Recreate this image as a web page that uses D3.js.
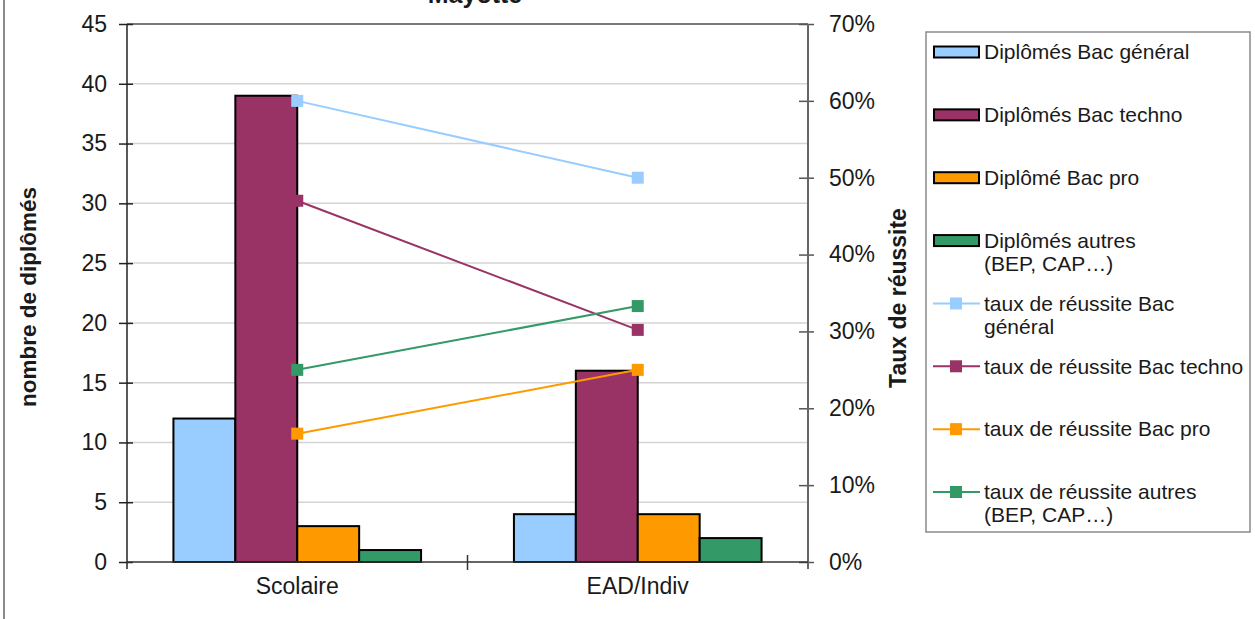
<!DOCTYPE html>
<html>
<head>
<meta charset="utf-8">
<script src="https://cdn.jsdelivr.net/npm/d3@7"></script>
<style>
body { margin: 0; background: #fff; }
text { font-family: "Liberation Sans", Arial, sans-serif; fill: #1a1a1a; }
</style>
</head>
<body>
<div id="graphic"></div>
<script>
// DATA
var categories = ["Scolaire", "EAD/Indiv"];

var barSeries = ["Diplômés Bac général", "Diplômés Bac techno", "Diplômé Bac pro", "Diplômés autres\n(BEP, CAP…)"];
var barGeneral = [12, 4];
var barTechno = [39, 16];
var barPro = [3, 4];
var barAutres = [1, 2];

var lineSeries = ["taux de réussite Bac\ngénéral", "taux de réussite Bac techno", "taux de réussite Bac pro", "taux de réussite autres\n(BEP, CAP…)"];
var tauxGeneral = [0.60, 0.50];
var tauxTechno = [0.47, 0.302];
var tauxPro = [0.167, 0.25];
var tauxAutres = [0.25, 0.333];

var colors = ["#99CCFF", "#993366", "#FF9900", "#339966"];

var leftTicks = [0, 5, 10, 15, 20, 25, 30, 35, 40, 45];
var rightTicks = [0, 0.1, 0.2, 0.3, 0.4, 0.5, 0.6, 0.7];

var barValues = [barGeneral, barTechno, barPro, barAutres];
var lineValues = [tauxGeneral, tauxTechno, tauxPro, tauxAutres];

// SVG
var W = 1255, H = 619;
var margin = {top: 24, right: 447, bottom: 57, left: 127};
var width = W - margin.left - margin.right,
    height = H - margin.top - margin.bottom;

var root = d3.select("#graphic").append("svg")
    .attr("width", W)
    .attr("height", H);

// left frame border
root.append("line")
    .attr("x1", 4).attr("x2", 4).attr("y1", 0).attr("y2", H)
    .attr("stroke", "#8a8a8a").attr("stroke-width", 2);

// title (cut at top)
root.append("text")
    .attr("x", 475).attr("y", 3)
    .attr("text-anchor", "middle")
    .style("font-weight", "bold").style("font-size", "25px")
    .text("Mayotte");

var svg = root.append("g")
    .attr("transform", "translate(" + margin.left + "," + margin.top + ")");

// SCALES
var x0 = d3.scaleBand().domain(categories).range([0, width]);
var barW = x0.bandwidth() / (barSeries.length + 1.5);
var x1 = d3.scaleBand().domain(d3.range(barSeries.length))
    .range([barW * 0.75, x0.bandwidth() - barW * 0.75]);

var y = d3.scaleLinear().domain([0, 45]).range([height, 0]);
var yR = d3.scaleLinear().domain([0, 0.7]).range([height, 0]);

// GRID
svg.selectAll(".grid")
    .data(leftTicks.filter(d => d > 0 && d < 45))
    .enter().append("line")
    .attr("class", "grid")
    .attr("x1", 0).attr("x2", width)
    .attr("y1", d => y(d)).attr("y2", d => y(d))
    .attr("stroke", "#d4d4d4").attr("stroke-width", 1.5);

svg.append("line")
    .attr("x1", 0).attr("x2", width)
    .attr("y1", y(45)).attr("y2", y(45))
    .attr("stroke", "#7a7a7a").attr("stroke-width", 2);

// BARS
barValues.forEach(function (vals, i) {
    svg.selectAll(".bar" + i)
        .data(vals)
        .enter().append("rect")
        .attr("class", "bar" + i)
        .attr("x", (d, j) => x0(categories[j]) + x1(i))
        .attr("y", d => y(d))
        .attr("width", x1.bandwidth())
        .attr("height", d => height - y(d))
        .attr("fill", colors[i])
        .attr("stroke", "#000")
        .attr("stroke-width", 2);
});

// AXES
var leftAxis = svg.append("g")
    .call(d3.axisLeft(y).tickValues(leftTicks).tickSize(8).tickPadding(12));
leftAxis.select(".domain").remove();
leftAxis.selectAll(".tick line").attr("x2", -8).attr("x1", 6).attr("stroke", "#222").attr("stroke-width", 1.5);
leftAxis.selectAll("text").style("font-size", "23px").attr("fill", "#1a1a1a");
leftAxis.append("line").attr("x1", 0).attr("x2", 0).attr("y1", 0).attr("y2", height + 7)
    .attr("stroke", "#222").attr("stroke-width", 1.5);

var rightAxis = svg.append("g")
    .attr("transform", "translate(" + width + ",0)")
    .call(d3.axisRight(yR).tickValues(rightTicks).tickFormat(d3.format(".0%")).tickSize(6).tickPadding(15));
rightAxis.select(".domain").remove();
rightAxis.selectAll(".tick line").attr("x1", -9).attr("x2", 6).attr("stroke", "#555").attr("stroke-width", 1.5);
rightAxis.selectAll("text").style("font-size", "23px").attr("fill", "#1a1a1a");
rightAxis.append("line").attr("x1", 0).attr("x2", 0).attr("y1", 0).attr("y2", height + 7)
    .attr("stroke", "#666").attr("stroke-width", 2);

// x axis
svg.append("line")
    .attr("x1", 0).attr("x2", width)
    .attr("y1", height).attr("y2", height)
    .attr("stroke", "#333").attr("stroke-width", 1.5);
svg.selectAll(".xtick")
    .data(categories.slice(1))
    .enter().append("line")
    .attr("x1", d => x0(d)).attr("x2", d => x0(d))
    .attr("y1", height - 7).attr("y2", height + 8)
    .attr("stroke", "#333").attr("stroke-width", 1.5);
svg.selectAll(".xlabel")
    .data(categories)
    .enter().append("text")
    .attr("x", d => x0(d) + x0.bandwidth() / 2)
    .attr("y", height + 32)
    .attr("text-anchor", "middle")
    .style("font-size", "23px")
    .text(d => d);

// LINES
var line = d3.line()
    .x((d, j) => x0(categories[j]) + x0.bandwidth() / 2)
    .y(d => yR(d));

lineValues.forEach(function (vals, i) {
    svg.append("path")
        .datum(vals)
        .attr("d", line)
        .attr("fill", "none")
        .attr("stroke", colors[i])
        .attr("stroke-width", 2);
    svg.selectAll(".mk" + i)
        .data(vals)
        .enter().append("rect")
        .attr("x", (d, j) => x0(categories[j]) + x0.bandwidth() / 2 - 6)
        .attr("y", d => yR(d) - 6)
        .attr("width", 12).attr("height", 12)
        .attr("fill", colors[i]);
});

// AXIS TITLES
root.append("text")
    .attr("transform", "translate(28,297) rotate(-90)")
    .attr("dy", "0.35em")
    .attr("text-anchor", "middle")
    .style("font-weight", "bold").style("font-size", "22.5px")
    .text("nombre de diplômés");

root.append("text")
    .attr("transform", "translate(898,298) rotate(-90)")
    .attr("dy", "0.35em")
    .attr("text-anchor", "middle")
    .style("font-weight", "bold").style("font-size", "23px")
    .text("Taux de réussite");

// LEGEND
var legend = root.append("g");
legend.append("rect")
    .attr("x", 926).attr("y", 32).attr("width", 324).attr("height", 500)
    .attr("fill", "#fff").attr("stroke", "#8a8a8a").attr("stroke-width", 1.5);

var legY = d3.scaleLinear().domain([0, 7]).range([52, 492]);
var items = barSeries.map((s, i) => ({label: s, type: "bar", c: colors[i], i: i}))
    .concat(lineSeries.map((s, i) => ({label: s, type: "line", c: colors[i], i: i + 4})));

items.forEach(function (it) {
    var cy = legY(it.i);
    if (it.type == "bar") {
        legend.append("rect")
            .attr("x", 934).attr("y", cy - 5.5).attr("width", 45).attr("height", 11)
            .attr("fill", it.c).attr("stroke", "#000").attr("stroke-width", 2);
    } else {
        legend.append("line")
            .attr("x1", 933).attr("x2", 980).attr("y1", cy).attr("y2", cy)
            .attr("stroke", it.c).attr("stroke-width", 2);
        legend.append("rect")
            .attr("x", 950).attr("y", cy - 6).attr("width", 12).attr("height", 12)
            .attr("fill", it.c);
    }
    var t = legend.append("text")
        .attr("x", 984).attr("y", cy)
        .attr("dy", "0.35em")
        .style("font-size", "21px");
    it.label.split("\n").forEach(function (ln, k) {
        t.append("tspan").attr("x", 984).attr("dy", k == 0 ? "0.35em" : 23).text(ln);
    });
    t.attr("dy", null);
});
</script>
</body>
</html>
